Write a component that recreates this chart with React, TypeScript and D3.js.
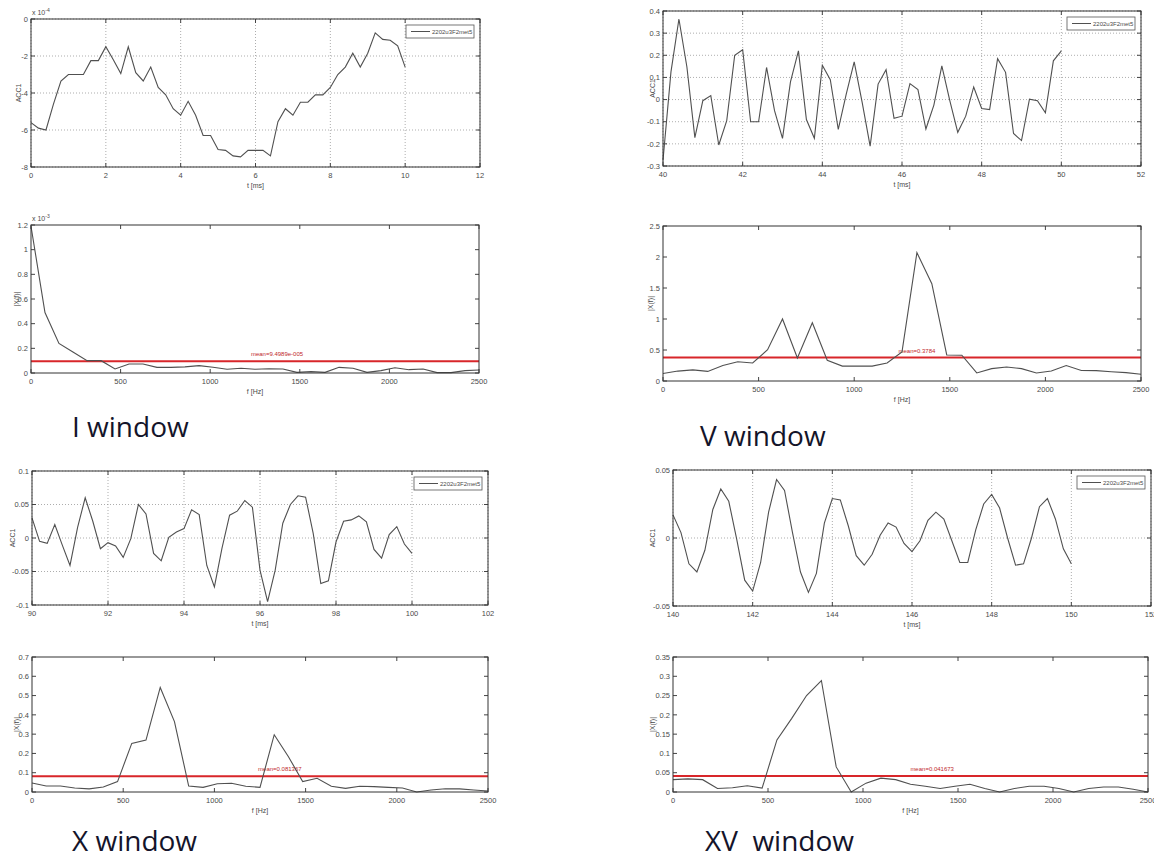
import React from "react";
import * as d3 from "d3";

// time axis offsets inside each 10 ms window (sample step 0.2 ms)
const tSteps = [0, 0.2, 0.4, 0.6, 0.8, 1, 1.2, 1.4, 1.6, 1.8, 2, 2.2, 2.4, 2.6, 2.8, 3, 3.2, 3.4, 3.6, 3.8, 4,
  4.2, 4.4, 4.6, 4.8, 5, 5.2, 5.4, 5.6, 5.8, 6, 6.2, 6.4, 6.6, 6.8, 7, 7.2, 7.4, 7.6, 7.8, 8, 8.2, 8.4, 8.6,
  8.8, 9, 9.2, 9.4, 9.6, 9.8, 10];

// frequency bins of the spectra
const freqs = [0, 78, 156, 234, 313, 391, 469, 547, 625, 703, 781, 859, 938, 1016, 1094, 1172, 1250, 1328,
  1406, 1484, 1563, 1641, 1719, 1797, 1875, 1953, 2031, 2109, 2188, 2266, 2344, 2422, 2500];

// ACC1 signals (panel I is in units of 1e-4)
const accI = [-5.6, -5.9, -6.0, -4.6, -3.35, -3.0, -3.0, -3.0, -2.25, -2.25, -1.5, -2.2, -2.95, -1.5, -2.9,
  -3.35, -2.6, -3.7, -4.1, -4.85, -5.2, -4.45, -5.2, -6.3, -6.3, -7.05, -7.1, -7.4, -7.45, -7.1, -7.1, -7.1,
  -7.4, -5.55, -4.85, -5.2, -4.5, -4.5, -4.1, -4.1, -3.7, -3.0, -2.6, -1.85, -2.6, -1.85, -0.75, -1.1, -1.15,
  -1.45, -2.6];
const accV = [-0.274, 0.125, 0.364, 0.147, -0.172, -0.005, 0.018, -0.205, -0.095, 0.2, 0.225, -0.1, -0.1,
  0.145, -0.05, -0.175, 0.08, 0.22, -0.09, -0.175, 0.155, 0.09, -0.135, 0.025, 0.17, -0.013, -0.21, 0.07,
  0.135, -0.085, -0.075, 0.072, 0.045, -0.133, -0.025, 0.152, -0.005, -0.148, -0.075, 0.057, -0.04, -0.045,
  0.185, 0.123, -0.153, -0.185, 0.002, -0.005, -0.06, 0.175, 0.22];
const accX = [0.03, -0.005, -0.008, 0.02, -0.011, -0.041, 0.016, 0.06, 0.025, -0.016, -0.007, -0.012, -0.029,
  -0.001, 0.05, 0.036, -0.023, -0.034, 0.001, 0.009, 0.014, 0.042, 0.035, -0.041, -0.073, -0.015, 0.034, 0.04,
  0.056, 0.046, -0.048, -0.095, -0.048, 0.022, 0.05, 0.063, 0.061, 0.007, -0.068, -0.064, -0.006, 0.025, 0.027,
  0.033, 0.024, -0.017, -0.03, 0.005, 0.017, -0.009, -0.023];
const accXV = [0.017, 0.004, -0.019, -0.025, -0.009, 0.021, 0.036, 0.027, -0.001, -0.031, -0.039, -0.018,
  0.019, 0.043, 0.035, 0.004, -0.025, -0.04, -0.026, 0.011, 0.029, 0.028, 0.009, -0.013, -0.02, -0.012, 0.002,
  0.011, 0.008, -0.004, -0.01, -0.002, 0.013, 0.019, 0.014, -0.002, -0.018, -0.018, 0.006, 0.025, 0.032, 0.022,
  0.0, -0.02, -0.019, 0.0, 0.023, 0.029, 0.014, -0.008, -0.019];

// |X(f)| spectra (panel I is in units of 1e-3)
const fftI = [1.19, 0.49, 0.24, 0.17, 0.1, 0.1, 0.033, 0.073, 0.073, 0.046, 0.046, 0.05, 0.06, 0.046, 0.03,
  0.038, 0.03, 0.035, 0.033, 0.005, 0.011, 0.005, 0.046, 0.038, 0.005, 0.019, 0.043, 0.027, 0.033, 0.003, 0.003,
  0.019, 0.024];
const fftV = [0.12, 0.16, 0.18, 0.155, 0.25, 0.31, 0.29, 0.505, 1.0, 0.37, 0.94, 0.335, 0.24, 0.24, 0.24, 0.29,
  0.47, 2.07, 1.57, 0.42, 0.415, 0.13, 0.2, 0.225, 0.2, 0.13, 0.16, 0.25, 0.17, 0.167, 0.15, 0.135, 0.11];
const fftX = [0.047, 0.031, 0.031, 0.021, 0.016, 0.026, 0.054, 0.252, 0.269, 0.542, 0.365, 0.031, 0.024, 0.043,
  0.045, 0.03, 0.024, 0.297, 0.183, 0.054, 0.071, 0.03, 0.019, 0.03, 0.028, 0.024, 0.021, 0.0, 0.01, 0.017, 0.016,
  0.01, 0.005];
const fftXV = [0.032, 0.034, 0.032, 0.009, 0.011, 0.016, 0.01, 0.135, 0.191, 0.25, 0.289, 0.065, 0.0, 0.023,
  0.036, 0.032, 0.02, 0.015, 0.009, 0.015, 0.02, 0.009, 0.0, 0.009, 0.015, 0.015, 0.009, 0.0, 0.009, 0.013,
  0.013, 0.007, 0.0];

const windowStarts = [0, 40, 90, 140];
const windowNames = ["I window", "V window", "X window", "XV  window"];
const meanValues = [0.094989, 0.3784, 0.081367, 0.041673];
const meanTexts = ["mean=9.4989e-005", "mean=0.3784", "mean=0.081367", "mean=0.041673"];
const meanTextFreq = [1373, 1328, 1359, 1364];
const legendName = "2202u3F2met5";

const fTicks = [0, 500, 1000, 1500, 2000, 2500];
const yTicksAcc = [
  [-8, -6, -4, -2, 0],
  [-0.3, -0.2, -0.1, 0, 0.1, 0.2, 0.3, 0.4],
  [-0.1, -0.05, 0, 0.05, 0.1],
  [-0.05, 0, 0.05],
];
const yTicksFft = [
  [0, 0.2, 0.4, 0.6, 0.8, 1, 1.2],
  [0, 0.5, 1, 1.5, 2, 2.5],
  [0, 0.1, 0.2, 0.3, 0.4, 0.5, 0.6, 0.7],
  [0, 0.05, 0.1, 0.15, 0.2, 0.25, 0.3, 0.35],
];

const boxesAcc = [
  { left: 31, right: 480, top: 19, bottom: 167, yl: 13 },
  { left: 663, right: 1141, top: 11, bottom: 166, yl: 11 },
  { left: 32, right: 488, top: 471, bottom: 605, yl: 20 },
  { left: 673, right: 1151, top: 470, bottom: 606, yl: 21 },
];
const boxesFft = [
  { left: 31, right: 479, top: 225, bottom: 373, yl: 15 },
  { left: 663, right: 1141, top: 226, bottom: 381, yl: 13 },
  { left: 32, right: 488, top: 657, bottom: 792, yl: 16 },
  { left: 673, right: 1148, top: 657, bottom: 792, yl: 21 },
];
const namePos = [
  { x: 72, y: 437 },
  { x: 700, y: 446 },
  { x: 72, y: 851 },
  { x: 705, y: 851 },
];

const tickFont = "'Liberation Sans', Arial, sans-serif";
const ink = "#4a4a4a";

function Panel({ box, xDomain, xTicks, yTicks, points, grid, exponent, mean, ylabel, xlabel, legend }) {
  const x = d3.scaleLinear().domain(xDomain).range([box.left, box.right]);
  const y = d3.scaleLinear().domain([yTicks[0], yTicks[yTicks.length - 1]]).range([box.bottom, box.top]);
  const line = d3.line().x((d) => x(d[0])).y((d) => y(d[1]));
  const tl = 4;
  return (
    <g>
      <rect x={box.left} y={box.top} width={box.right - box.left} height={box.bottom - box.top} fill="#fff" />
      {grid && xTicks.map((t) => (
        <line key={"gx" + t} x1={x(t)} x2={x(t)} y1={box.top} y2={box.bottom} stroke="#8a8a8a" strokeWidth={0.7} strokeDasharray="1,2" />
      ))}
      {grid && yTicks.map((t) => (
        <line key={"gy" + t} x1={box.left} x2={box.right} y1={y(t)} y2={y(t)} stroke="#8a8a8a" strokeWidth={0.7} strokeDasharray="1,2" />
      ))}
      {xTicks.map((t) => (
        <g key={"xt" + t}>
          <line x1={x(t)} x2={x(t)} y1={box.bottom} y2={box.bottom - tl} stroke="#444" />
          <line x1={x(t)} x2={x(t)} y1={box.top} y2={box.top + tl} stroke="#444" />
          <text x={x(t)} y={box.bottom + 10.5} fontSize={7.5} fill={ink} textAnchor="middle" fontFamily={tickFont}>{String(t)}</text>
        </g>
      ))}
      {yTicks.map((t) => (
        <g key={"yt" + t}>
          <line x1={box.left} x2={box.left + tl} y1={y(t)} y2={y(t)} stroke="#444" />
          <line x1={box.right} x2={box.right - tl} y1={y(t)} y2={y(t)} stroke="#444" />
          <text x={box.left - 3} y={y(t) + 2.7} fontSize={7.5} fill={ink} textAnchor="end" fontFamily={tickFont}>{String(t)}</text>
        </g>
      ))}
      {mean && (
        <g>
          <line x1={box.left} x2={box.right} y1={y(mean.value)} y2={y(mean.value)} stroke="#d8262a" strokeWidth={2} />
          <text x={x(mean.at)} y={y(mean.value) - 5} fontSize={6} fill="#c0282c" textAnchor="middle" fontFamily={tickFont}>{mean.text}</text>
        </g>
      )}
      <path d={line(points)} fill="none" stroke="#505050" strokeWidth={1.1} />
      <rect x={box.left} y={box.top} width={box.right - box.left} height={box.bottom - box.top} fill="none" stroke="#333" strokeWidth={1} />
      {exponent && (
        <text x={box.left + 1} y={box.top - 4} fontSize={7} fill={ink} fontFamily={tickFont}>
          x 10<tspan dy={-3} fontSize={5}>{exponent}</tspan>
        </text>
      )}
      {legend && (
        <g>
          <rect x={box.right - 74} y={box.top + 6} width={68} height={13} fill="#fff" stroke="#555" strokeWidth={0.8} />
          <line x1={box.right - 69} x2={box.right - 50} y1={box.top + 12.5} y2={box.top + 12.5} stroke="#505050" />
          <text x={box.right - 48} y={box.top + 15} fontSize={6} fill={ink} fontFamily={tickFont}>{legend}</text>
        </g>
      )}
      <text x={(box.left + box.right) / 2} y={box.bottom + 21} fontSize={7} fill={ink} textAnchor="middle" fontFamily={tickFont}>{xlabel}</text>
      <text transform={`translate(${box.left - box.yl + 2.5},${(box.top + box.bottom) / 2}) rotate(-90)`} fontSize={7} fill={ink} textAnchor="middle" fontFamily={tickFont}>{ylabel}</text>
    </g>
  );
}

export default function App() {
  const accs = [accI, accV, accX, accXV];
  const ffts = [fftI, fftV, fftX, fftXV];
  return (
    <svg width={1154} height={856} style={{ position: "absolute", left: 0, top: 0, background: "#fff" }}>
      <rect width={1154} height={856} fill="#fff" />
      {windowStarts.map((t0, i) => {
        const tVals = tSteps.map((s) => t0 + s);
        const xTicks = [0, 2, 4, 6, 8, 10, 12].map((s) => t0 + s);
        return (
          <g key={i}>
            <Panel
              box={boxesAcc[i]}
              xDomain={[t0, t0 + 12]}
              xTicks={xTicks}
              yTicks={yTicksAcc[i]}
              points={tVals.map((t, j) => [t, accs[i][j]])}
              grid={true}
              exponent={i === 0 ? "-4" : null}
              mean={null}
              ylabel="ACC1"
              xlabel="t [ms]"
              legend={legendName}
            />
            <Panel
              box={boxesFft[i]}
              xDomain={[0, 2500]}
              xTicks={fTicks}
              yTicks={yTicksFft[i]}
              points={freqs.map((f, j) => [f, ffts[i][j]])}
              grid={false}
              exponent={i === 0 ? "-3" : null}
              mean={{ value: meanValues[i], at: meanTextFreq[i], text: meanTexts[i] }}
              ylabel="|X(f)|"
              xlabel="f [Hz]"
              legend={null}
            />
            <text x={namePos[i].x} y={namePos[i].y} fontSize={28} fill="#14142a" fontFamily="'Open Sans', sans-serif" style={{ whiteSpace: "pre" }}>{windowNames[i]}</text>
          </g>
        );
      })}
    </svg>
  );
}
